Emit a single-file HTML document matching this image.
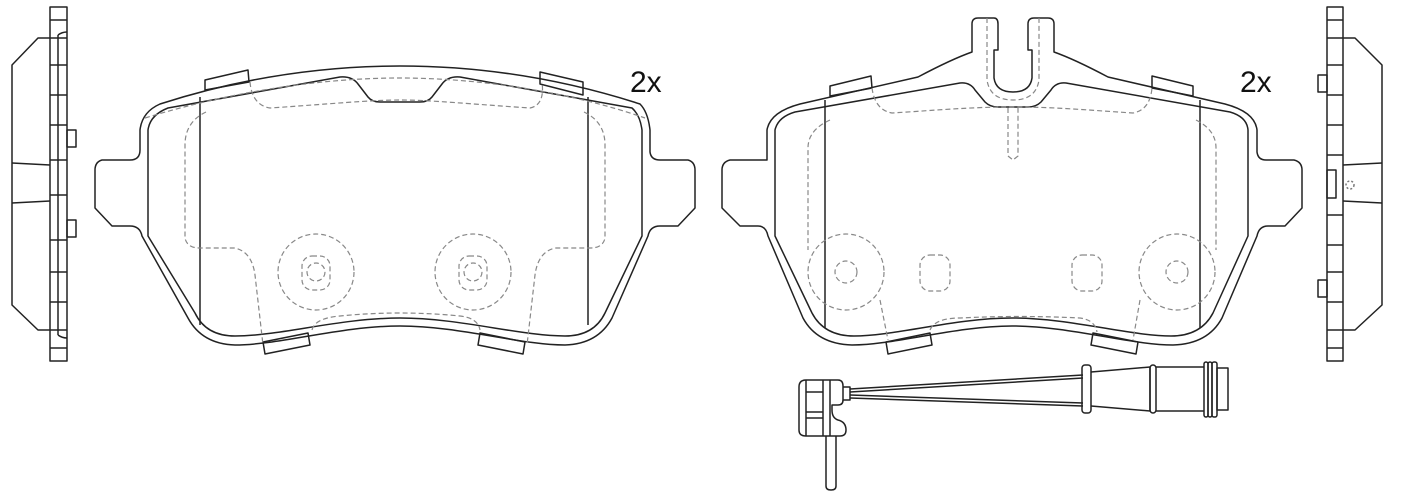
<!DOCTYPE html>
<html><head><meta charset="utf-8"><style>
html,body{margin:0;padding:0;background:#fff;}
svg{display:block}
</style></head><body>
<svg width="1404" height="500" viewBox="0 0 1404 500" xmlns="http://www.w3.org/2000/svg" fill="none" stroke="#222" stroke-width="1.5" stroke-linejoin="round">
<!-- LEFT SIDE VIEW -->
<rect x="50" y="7" width="17" height="354"/>
<path d="M50,38 L38,38 L12,65 L12,305 L38,330 L50,330"/>
<path d="M12,163 L50,165 M12,203 L50,201"/>
<path d="M58,35 Q62,32 67,32 M58,335 Q62,338 67,338"/>
<line x1="58" y1="35" x2="58" y2="335"/>
<rect x="67" y="130" width="9" height="17"/><rect x="67" y="220" width="9" height="17"/>
<path d="M50,20H67M50,38H67M50,65H67M50,95H67M50,125H67M50,160H67M50,195H67M50,240H67M50,272H67M50,302H67M50,330H67M50,348H67"/>

<!-- LEFT PAD -->
<path d="M140,150 L140,130 Q142,112 160,104 C250,75 330,66 400,66 C470,66 550,75 640,104 Q648,112 650,130 L650,152 Q651,160 660,160 L688,160 Q695,162 695,170 L695,208 L678,226 L660,226 Q650,226 648,236 L612,318 Q598,344 565,345 C520,345 460,326 400,326 C340,326 280,345 235,345 Q202,344 188,318 L142,236 Q140,226 130,226 L112,226 L95,208 L95,170 Q95,162 102,160 L130,160 Q140,160 140,150 Z"/>
<path d="M148,236 L148,130 Q150,115 168,108 L340,77 Q352,76 358,84 L368,97 Q372,102 380,102 L420,102 Q428,102 432,97 L442,84 Q448,76 460,77 L632,108 Q640,115 642,130 L642,236 L605,313 Q594,336 565,336 C520,336 460,318 400,318 C340,318 280,336 235,336 Q206,336 195,313 Z"/>
<line x1="200" y1="97" x2="200" y2="325"/><line x1="588" y1="97" x2="588" y2="325"/>
<path d="M205,90 L205,80 L248,70 L249,82 Z M540,72 L583,82 L583,95 L540,84 Z M263,342 L308,333 L310,345 L265,354 Z M480,333 L525,342 L523,354 L478,345 Z"/>
<g stroke="#888" stroke-dasharray="5,3" stroke-width="1.2">
<path d="M145,118 C230,92 320,78 400,78 C480,78 570,92 645,118"/>
<path d="M250,82 Q252,105 270,108 C330,104 370,100 400,100 C430,100 470,104 530,108 Q545,105 542,82"/>
<path d="M206,112 Q185,122 185,145 L185,238 Q187,248 200,248 L235,248 Q252,252 255,275 L263,345 M584,112 Q605,122 605,145 L605,238 Q603,248 590,248 L555,248 Q538,252 535,275 L527,345"/>
<path d="M312,330 Q315,318 340,316 C380,312 420,312 460,316 Q478,318 480,330"/>
<circle cx="316" cy="272" r="38"/><circle cx="473" cy="272" r="38"/>
<rect x="302" y="256" width="28" height="34" rx="10"/><rect x="459" y="256" width="28" height="34" rx="10"/>
<circle cx="316" cy="272" r="9"/><circle cx="473" cy="272" r="9"/>
</g>
<text x="630" y="92" font-family="Liberation Sans, sans-serif" font-size="30" fill="#111" stroke="none">2x</text>

<!-- RIGHT PAD -->
<path d="M767,160 L767,130 Q770,112 800,104 L918,77 C935,68 955,58 972,52 L972,24 Q972,18 978,18 L994,18 Q998,18 998,24 L998,50 L994,50 L994,78 Q996,92 1013,92 Q1030,92 1032,78 L1032,50 L1028,50 L1028,24 Q1028,18 1034,18 L1048,18 Q1054,18 1054,24 L1054,52 C1071,58 1091,68 1108,77 L1225,104 Q1255,112 1257,130 L1257,152 Q1258,160 1266,160 L1294,160 Q1302,162 1302,170 L1302,208 L1285,226 L1268,226 Q1259,226 1257,236 L1222,318 Q1208,344 1173,345 C1130,345 1070,326 1012,326 C955,326 895,345 852,345 Q817,344 803,318 L768,236 Q766,226 758,226 L740,226 L722,208 L722,170 Q722,162 730,160 Z"/>
<path d="M775,236 L775,130 Q778,117 795,112 L960,83 Q970,82 975,90 L985,102 Q990,107 998,107 L1028,107 Q1036,107 1041,102 L1051,90 Q1056,82 1066,83 L1230,112 Q1247,117 1248,130 L1248,236 L1213,313 Q1201,336 1171,336 C1130,336 1070,318 1012,318 C955,318 895,336 854,336 Q824,336 812,313 Z"/>
<line x1="825" y1="100" x2="825" y2="328"/><line x1="1200" y1="100" x2="1200" y2="328"/>
<path d="M830,96 L830,86 L871,76 L872,88 Z M1152,76 L1193,86 L1193,96 L1152,88 Z M886,342 L930,333 L932,345 L888,354 Z M1093,333 L1138,342 L1136,354 L1091,345 Z"/>
<g stroke="#888" stroke-dasharray="5,3" stroke-width="1.2">
<path d="M987,18 L987,80 Q990,100 1013,100 Q1036,100 1039,80 L1039,18"/>
<path d="M1008,108 L1008,156 L1013,160 L1018,156 L1018,108"/>
<path d="M872,88 Q875,110 892,113 C940,110 970,107 1013,107 C1056,107 1086,110 1133,113 Q1150,110 1152,88"/>
<path d="M830,120 Q808,130 808,148 L808,250 M1196,120 Q1216,130 1216,148 L1216,250"/>
<path d="M880,300 L888,340 M1140,300 L1133,340 M930,330 Q935,318 960,318 C1000,316 1040,316 1080,318 Q1095,320 1097,332"/>
<circle cx="846" cy="272" r="38"/><circle cx="1177" cy="272" r="38"/>
<circle cx="846" cy="272" r="11"/><circle cx="1177" cy="272" r="11"/>
<rect x="920" y="255" width="30" height="36" rx="10"/><rect x="1072" y="255" width="30" height="36" rx="10"/>
</g>
<text x="1240" y="92" font-family="Liberation Sans, sans-serif" font-size="30" fill="#111" stroke="none">2x</text>

<!-- RIGHT SIDE VIEW -->
<rect x="1327" y="7" width="16" height="354"/>
<path d="M1343,38 L1355,38 L1382,65 L1382,305 L1355,330 L1343,330"/>
<path d="M1343,165 L1382,163 M1343,201 L1382,203"/>
<rect x="1318" y="75" width="9" height="17"/><rect x="1318" y="280" width="9" height="17"/>
<rect x="1327" y="170" width="9" height="28"/>
<circle cx="1350" cy="185" r="4" stroke="#777" stroke-dasharray="2,2"/>
<path d="M1327,20H1343M1327,38H1343M1327,65H1343M1327,95H1343M1327,125H1343M1327,155H1343M1327,215H1343M1327,245H1343M1327,272H1343M1327,302H1343M1327,330H1343M1327,348H1343"/>

<!-- SENSOR -->
<path d="M806,380 L838,380 Q843,380 843,386 L843,400 L850,400 L850,387 L843,387"/>
<path d="M806,380 Q799,380 799,387 L799,430 Q799,436 806,436 L840,436 Q846,436 846,430 Q846,422 838,420 Q832,418 832,410 L832,405 L838,405 Q843,405 843,400"/>
<path d="M806,380 L806,436 M823,380 L823,436 M806,392 L823,392 M806,412 L823,412 M806,418 L823,418 M830,380 L830,436"/>
<path d="M826,436 L826,486 Q826,490 831,490 Q836,490 836,486 L836,436"/>
<path d="M850,389 L1083,375 M850,392 L1083,378 M850,395 L1083,403 M850,398 L1083,406"/>
<rect x="1082" y="365" width="9" height="48" rx="3"/>
<path d="M1091,372 L1150,367 L1150,411 L1091,406"/>
<rect x="1150" y="365" width="6" height="48" rx="3"/>
<path d="M1156,367 L1204,367 M1156,411 L1204,411"/>
<rect x="1204" y="362" width="4" height="55" rx="2"/><rect x="1208" y="362" width="4" height="55" rx="2"/><rect x="1212" y="362" width="5" height="55" rx="2"/>
<rect x="1217" y="368" width="11" height="42"/>
</svg>
</body></html>
